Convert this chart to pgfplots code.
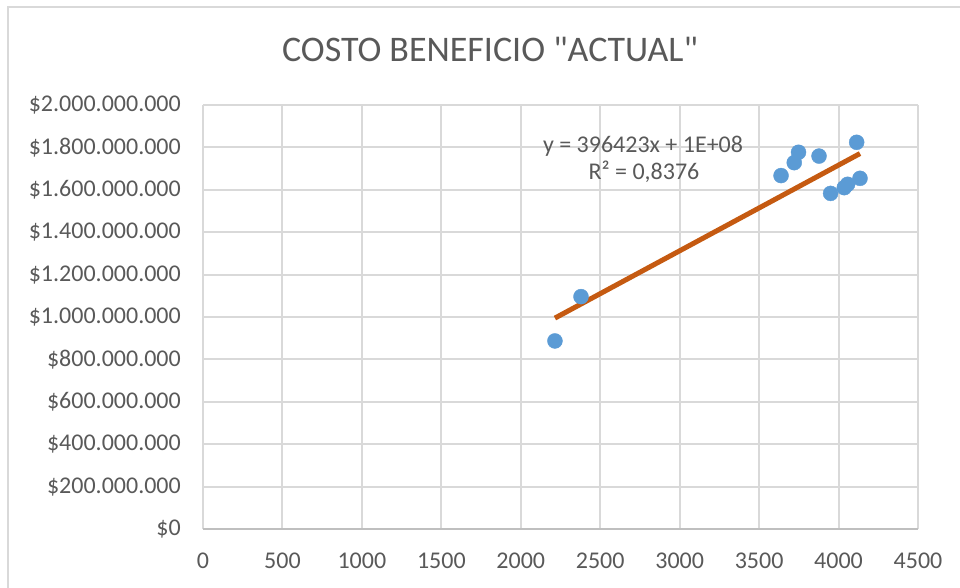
\documentclass[border=0pt]{standalone}
\usepackage{pgfplots}
\pgfplotsset{compat=1.18}
\usepackage{pgfplotstable}
\usepackage{fontspec}
\setmainfont{Carlito}[Ligatures=TeXOff]
\definecolor{txt}{HTML}{595959}
\definecolor{gridc}{HTML}{D9D9D9}
\definecolor{axc}{HTML}{BFBFBF}
\definecolor{dotc}{HTML}{5B9BD5}
\definecolor{trend}{HTML}{C55A11}
\pgfplotstableread{
X Y
2215 887000000
2379 1096000000
3638 1667000000
3721 1728000000
3748 1777000000
3877 1759000000
3950 1583000000
4036 1610000000
4057 1626000000
4114 1824000000
4135 1654000000
}\data
\begin{document}
\begin{tikzpicture}
\useasboundingbox (0pt,0pt) rectangle (960pt,588pt);
\draw[gridc, line width=1.5pt] (8pt,-5pt) -- (8pt,581pt) -- (965pt,581pt);
\node[anchor=base, text=txt, font=\fontsize{36}{40}\selectfont, inner sep=0pt] at (490pt,526pt) {COSTO BENEFICIO "ACTUAL"};
\begin{axis}[
  at={(203pt,59pt)}, anchor=south west,
  scale only axis, width=715pt, height=424pt,
  xmin=0, xmax=4500, ymin=0, ymax=2000000000,
  xtick={0,500,1000,1500,2000,2500,3000,3500,4000,4500},
  xticklabels={0,500,1000,1500,2000,2500,3000,3500,4000,4500},
  ytick={0,200000000,400000000,600000000,800000000,1000000000,1200000000,1400000000,1600000000,1800000000,2000000000},
  yticklabels={\$0,\$200.000.000,\$400.000.000,\$600.000.000,\$800.000.000,\$1.000.000.000,\$1.200.000.000,\$1.400.000.000,\$1.600.000.000,\$1.800.000.000,\$2.000.000.000},
  scaled y ticks=false, scaled x ticks=false,
  major tick length=0pt,
  grid=major,
  major grid style={gridc, line width=2pt},
  axis line style={draw=none},
  xticklabel style={anchor=north, inner sep=0pt, yshift=-24pt, text=txt, font=\fontsize{24}{28}\selectfont},
  yticklabel style={anchor=east, inner sep=0pt, xshift=-22pt, text=txt, font=\fontsize{24}{28}\selectfont},
  clip=false,
]
\addplot[only marks, mark=*, mark size=7.5pt, mark options={fill=dotc, draw=dotc}] table[x=X, y=Y] {\data};
\addplot[trend, line width=5pt, no marks] table[x=X, y={create col/linear regression={y=Y}}] {\data};
\draw[axc, line width=2pt] (axis cs:0,0) -- (axis cs:4500,0);
\end{axis}
\node[anchor=base, text=txt, font=\fontsize{24}{28}\selectfont, inner sep=0pt] at (643pt,435pt) {y = 396423x + 1E+08};
\node[anchor=base, text=txt, font=\fontsize{24}{28}\selectfont, inner sep=0pt] at (644pt,408pt) {R² = 0,8376};
\end{tikzpicture}
\end{document}
